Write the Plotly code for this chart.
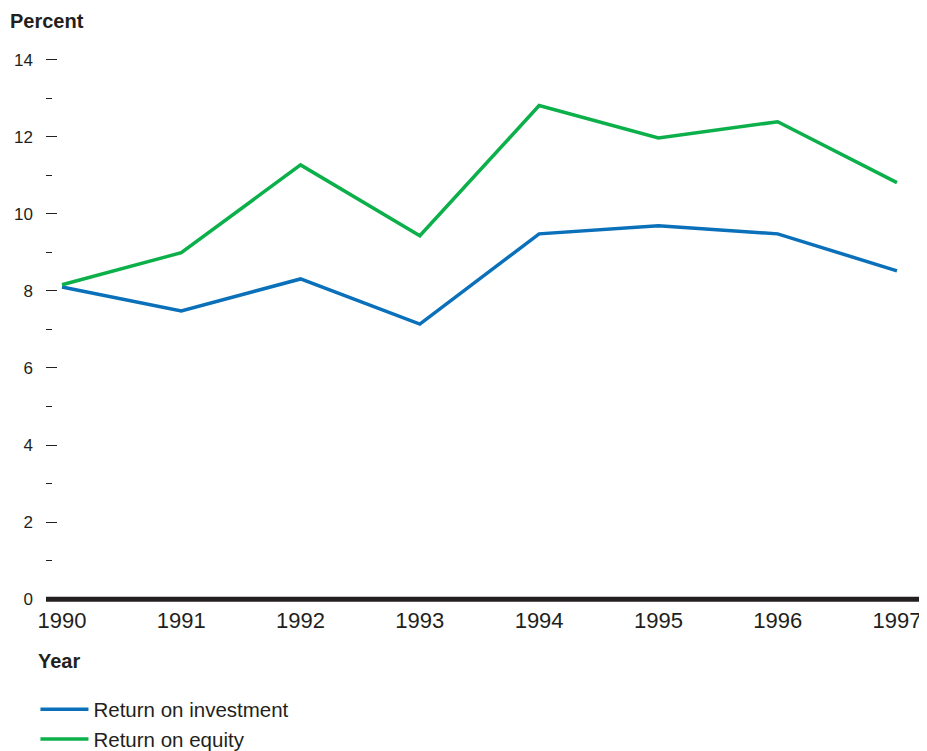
import plotly.graph_objects as go

years = [1990, 1991, 1992, 1993, 1994, 1995, 1996, 1997]
roi = [8.1, 7.48, 8.31, 7.14, 9.48, 9.69, 9.48, 8.52]
roe = [8.16, 8.99, 11.27, 9.43, 12.81, 11.97, 12.39, 10.81]
y_ticks = [0, 2, 4, 6, 8, 10, 12, 14]

BLUE = "#0a70b9"
GREEN = "#0cb04b"
FONT = "Liberation Sans, Arial, sans-serif"

fig = go.Figure()
fig.add_trace(go.Scatter(x=years, y=roi, mode="lines", name="Return on investment",
                         line=dict(color=BLUE, width=3.5), legendgroup="a"))
fig.add_trace(go.Scatter(x=years, y=roe, mode="lines", name="Return on equity",
                         line=dict(color=GREEN, width=3.5), legendgroup="b"))

fig.add_shape(type="line", xref="paper", yref="y", x0=0, x1=1, y0=0, y1=0,
              line=dict(color="#231f20", width=5), layer="above")

fig.update_layout(
    width=919, height=743,
    margin=dict(l=38, r=2, t=44, b=148, autoexpand=False),
    plot_bgcolor="white", paper_bgcolor="white",
    font=dict(family=FONT, color="#231f20"),
    showlegend=True,
    legend=dict(x=-0.012, y=-0.157, xanchor="left", yanchor="top",
                font=dict(size=20.5, color="#231f20"), tracegroupgap=0,
                itemwidth=48, bgcolor="rgba(0,0,0,0)"),
    xaxis=dict(range=[1989.866, 1997.235], tickvals=years, ticks="",
               showgrid=False, zeroline=False, showline=False, automargin=False,
               tickfont=dict(size=22, color="#231f20"), ticklabelstandoff=2),
    yaxis=dict(range=[-0.1, 14.2], tickvals=y_ticks, ticks="inside", ticklen=11,
               tickcolor="#231f20", tickwidth=1, automargin=False,
               minor=dict(tickvals=[1, 3, 5, 7, 9, 11, 13], ticks="inside", ticklen=6,
                          tickcolor="#231f20", tickwidth=1, showgrid=False),
               showgrid=False, zeroline=False, showline=False,
               tickfont=dict(size=17, color="#231f20"), ticklabelstandoff=12),
)

fig.add_annotation(text="<b>Percent</b>", xref="paper", yref="paper",
                   x=-0.043, y=1.056, xanchor="left", yanchor="middle",
                   showarrow=False, font=dict(size=20, family=FONT, color="#231f20"))
fig.add_annotation(text="<b>Year</b>", xref="paper", yref="paper",
                   x=-0.0113, y=-0.106, xanchor="left", yanchor="middle",
                   showarrow=False, font=dict(size=20, family=FONT, color="#231f20"))

fig.write_html("out.html")
